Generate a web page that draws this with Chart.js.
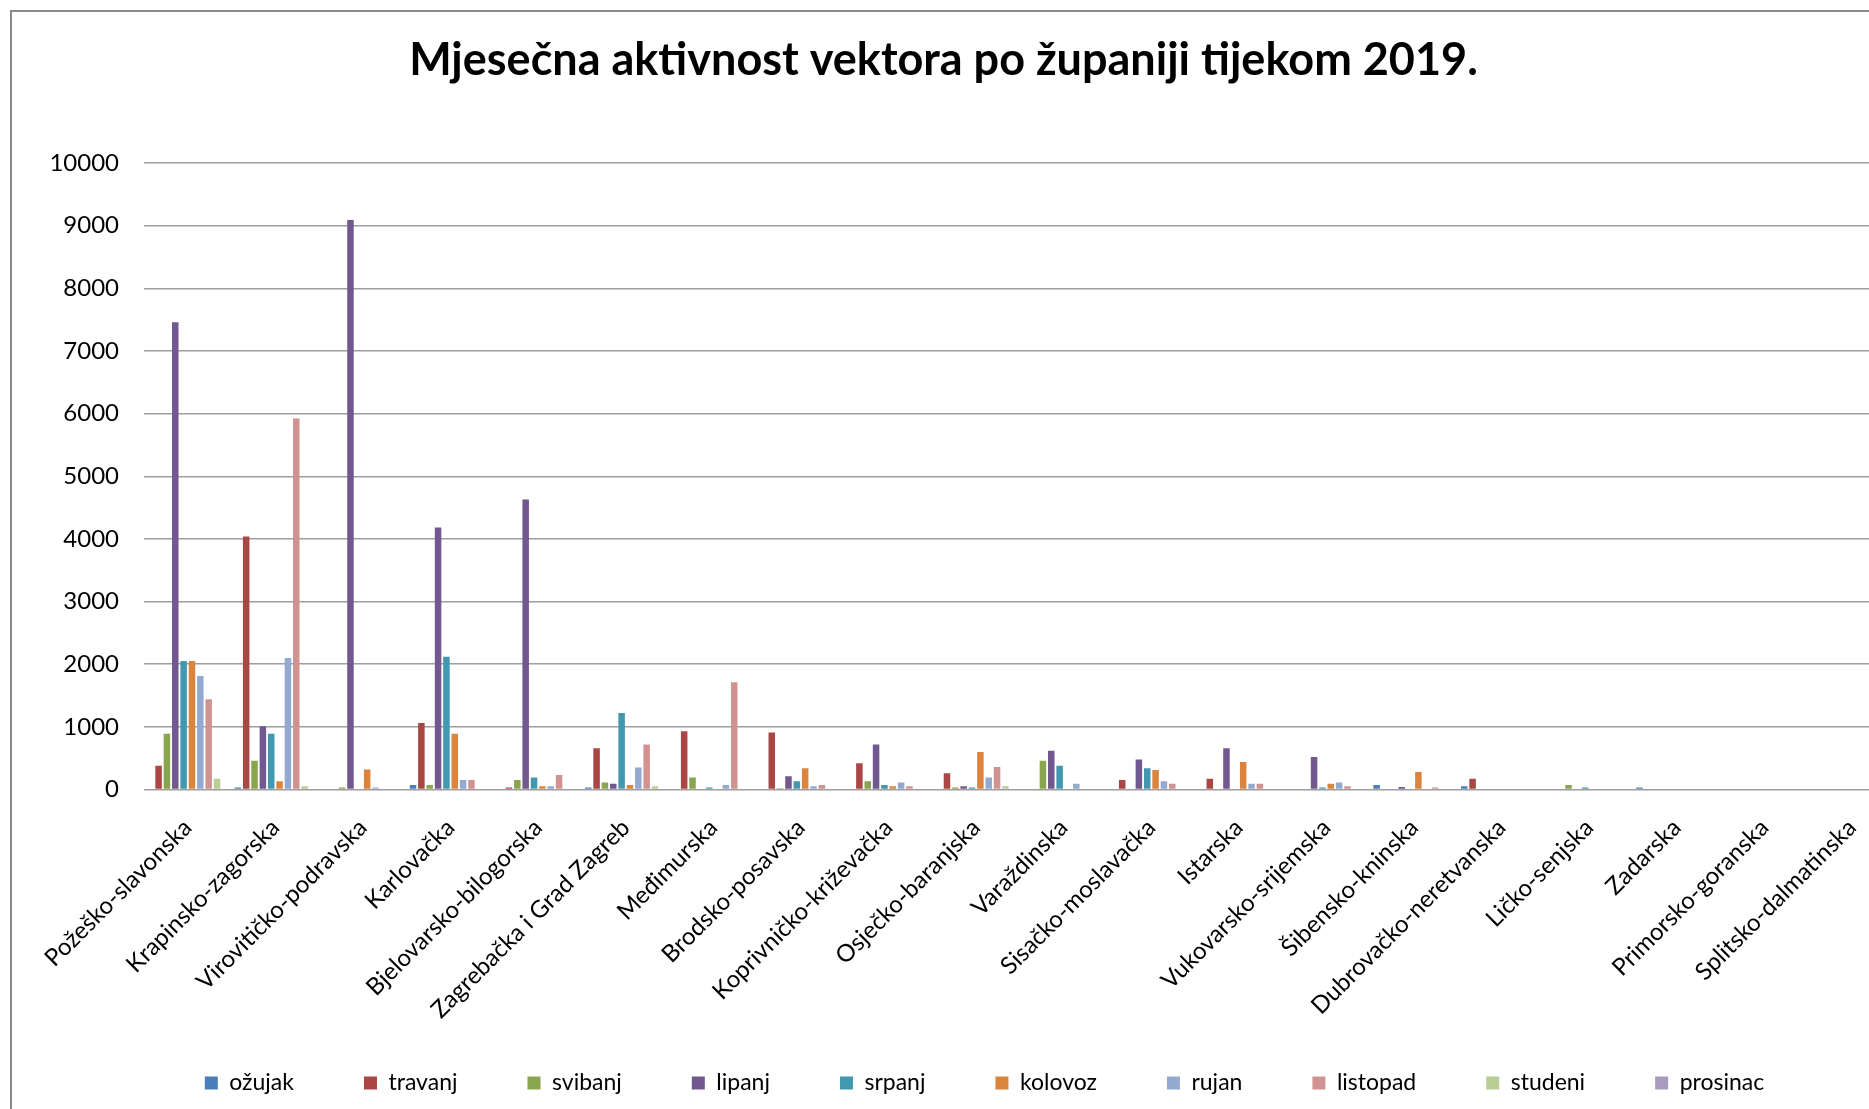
<!DOCTYPE html>
<html>
<head>
<meta charset="utf-8">
<script src="https://cdn.jsdelivr.net/npm/chart.js@4.4.1/dist/chart.umd.min.js"></script>
<style>
  html, body { margin: 0; padding: 0; background: #fff; overflow: hidden; width: 1869px; height: 1109px; }
  #frameL { position: absolute; left: 10px; top: 10px; width: 2px; height: 1099px; background: #8a8a8a; }
  #frameT { position: absolute; left: 10px; top: 10px; width: 1859px; height: 2px; background: #8a8a8a; }
  #c { position: absolute; left: 13px; top: 13px; }
</style>
</head>
<body>
<div id="frameL"></div>
<div id="frameT"></div>
<canvas id="c" width="1884" height="1096"></canvas>
<script>
const titleText = "Mjesečna aktivnost vektora po županiji tijekom 2019.";
const categories = ["Požeško-slavonska", "Krapinsko-zagorska", "Virovitičko-podravska", "Karlovačka", "Bjelovarsko-bilogorska", "Zagrebačka i Grad Zagreb", "Međimurska", "Brodsko-posavska", "Koprivničko-križevačka", "Osječko-baranjska", "Varaždinska", "Sisačko-moslavačka", "Istarska", "Vukovarsko-srijemska", "Šibensko-kninska", "Dubrovačko-neretvanska", "Ličko-senjska", "Zadarska", "Primorsko-goranska", "Splitsko-dalmatinska"];
const seriesNames = ["ožujak", "travanj", "svibanj", "lipanj", "srpanj", "kolovoz", "rujan", "listopad", "studeni", "prosinac"];
const seriesColors = ["#4A7EBB", "#AA4643", "#89A54E", "#71588F", "#4198AF", "#DB843D", "#93A9CF", "#D19392", "#B9CD96", "#A99BBD"];

const ozujak   = [0, 30, 0, 70, 0, 30, 0, 0, 0, 0, 0, 0, 0, 0, 70, 50, 0, 30, 0, 0];
const travanj  = [380, 4040, 0, 1060, 30, 660, 930, 910, 420, 260, 0, 150, 170, 0, 0, 170, 0, 0, 0, 0];
const svibanj  = [890, 460, 30, 70, 150, 110, 190, 20, 130, 30, 460, 0, 0, 0, 0, 0, 70, 0, 0, 0];
const lipanj   = [7460, 1010, 9090, 4180, 4630, 90, 0, 210, 720, 50, 620, 480, 660, 520, 40, 0, 0, 0, 0, 0];
const srpanj   = [2050, 890, 0, 2120, 190, 1220, 30, 130, 70, 30, 380, 340, 0, 30, 0, 0, 30, 0, 0, 0];
const kolovoz  = [2050, 130, 320, 890, 50, 70, 0, 340, 50, 600, 0, 310, 440, 90, 280, 0, 0, 0, 0, 0];
const rujan    = [1810, 2100, 30, 150, 50, 350, 70, 50, 110, 190, 90, 130, 90, 110, 0, 0, 0, 0, 0, 0];
const listopad = [1440, 5920, 0, 150, 230, 720, 1710, 70, 50, 360, 0, 90, 90, 50, 30, 0, 0, 0, 0, 0];
const studeni  = [170, 50, 0, 0, 0, 50, 0, 0, 0, 50, 0, 0, 0, 0, 0, 0, 0, 0, 0, 0];
const prosinac = [0, 0, 0, 0, 0, 0, 0, 0, 0, 0, 0, 0, 0, 0, 0, 0, 0, 0, 0, 0];
const seriesValues = [ozujak, travanj, svibanj, lipanj, srpanj, kolovoz, rujan, listopad, studeni, prosinac];

const yTicks = [0, 1000, 2000, 3000, 4000, 5000, 6000, 7000, 8000, 9000, 10000];

const FONT = "Lato, 'Open Sans', sans-serif";

const shiftPlugin = {
  id: 'shiftBoxes',
  afterLayout(chart) {
    const t = chart.titleBlock;
    if (t) { t.left -= 11; t.right -= 11; }
    const l = chart.legend;
    if (l) { l.left += 30; l.right += 30; }
    const x = chart.scales.x;
    if (x) { x.bottom += 60; }
  }
};

new Chart(document.getElementById('c'), {
  type: 'bar',
  data: {
    labels: categories,
    datasets: seriesNames.map((n, i) => ({
      label: n,
      data: seriesValues[i],
      backgroundColor: seriesColors[i],
      borderWidth: 0,
      barPercentage: 0.78,
      categoryPercentage: 0.953
    }))
  },
  options: {
    responsive: false,
    animation: false,
    devicePixelRatio: 1,
    layout: { padding: { left: 0, right: 1, top: 0, bottom: 4.5 } },
    plugins: {
      title: {
        display: true,
        text: titleText,
        color: '#000',
        font: { family: FONT, size: 45, weight: 'bold', lineHeight: 1.2 },
        padding: { top: 20, bottom: 76 }
      },
      legend: {
        display: true,
        position: 'bottom',
        labels: {
          color: '#000',
          font: { family: FONT, size: 23 },
          boxWidth: 13,
          boxHeight: 13,
          padding: 70
        }
      },
      tooltip: { enabled: false }
    },
    scales: {
      x: {
        grid: { display: false },
        border: { display: false },
        ticks: {
          color: '#000',
          font: { family: FONT, size: 24 },
          minRotation: 45,
          maxRotation: 45,
          autoSkip: false,
          padding: 16
        },
        afterFit(scale) { scale.height = 212; }
      },
      y: {
        min: 0,
        max: 10000,
        afterBuildTicks(scale) { scale.ticks = yTicks.map(v => ({ value: v })); },
        grid: { color: '#9e9e9e', lineWidth: 1.5, drawTicks: false },
        border: { display: false },
        ticks: {
          color: '#000',
          font: { family: FONT, size: 24 },
          padding: 25,
          callback: v => String(v)
        },
        afterFit(scale) { scale.width = 131; }
      }
    }
  },
  plugins: [shiftPlugin]
});
</script>
</body>
</html>
